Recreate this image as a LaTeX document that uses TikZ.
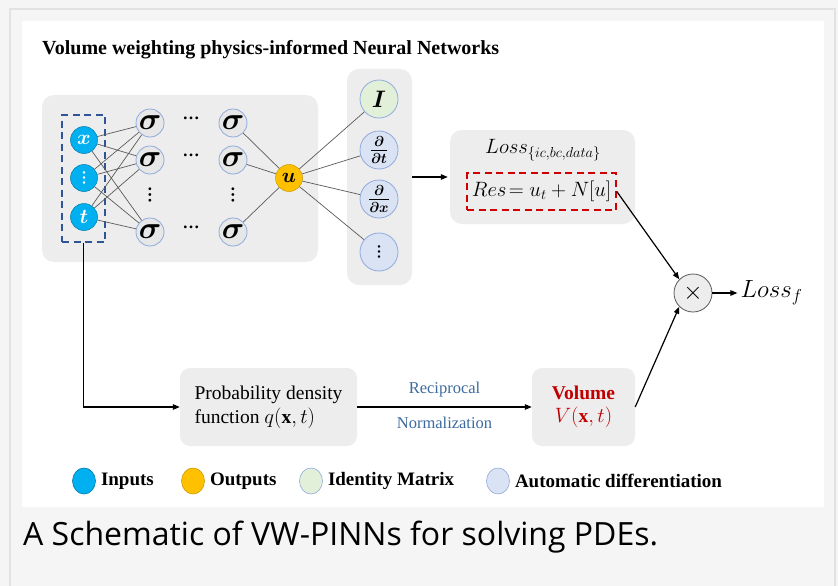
\documentclass[tikz,border=0pt]{standalone}
\usepackage{amssymb,amsmath}
\usepackage{graphicx}
\usepackage{xcolor}
\usepackage{fontspec}
\setmainfont{Liberation Serif}
\newfontfamily\capfont{Open Sans}
\usepackage{tikz}
\usetikzlibrary{shapes.geometric,arrows.meta,positioning}

\definecolor{inblue}{HTML}{00B0F0}
\definecolor{outgold}{HTML}{FFC000}
\definecolor{idgreen}{HTML}{E2F0D9}
\definecolor{adblue}{HTML}{DAE3F3}
\definecolor{ringblue}{HTML}{8FAADC}
\definecolor{sigfill}{HTML}{E7E7E7}
\definecolor{boxgray}{HTML}{EDEDED}
\definecolor{wirecol}{HTML}{5A5A5A}
\definecolor{dashblue}{HTML}{2F5597}
\definecolor{resred}{HTML}{D00000}
\definecolor{volred}{HTML}{C00000}
\definecolor{notecol}{HTML}{3D6A9E}
\definecolor{pagebg}{HTML}{F5F5F5}
\definecolor{frameline}{HTML}{E2E2E2}

% heavy dot rows
\newcommand{\rowdots}{\raisebox{0.28em}{\bfseries\textellipsis}}
\newcommand{\coldots}{\rotatebox{90}{\bfseries\textellipsis}}

\begin{document}
\begin{tikzpicture}[x=1pt,y=-1pt,
  graybox/.style={draw=none, fill=boxgray, rounded corners=12pt, inner sep=0pt},
  inputnode/.style={circle, fill=inblue, draw=inblue!70!black, line width=0.5pt, minimum size=27pt, inner sep=0pt, text=white, font=\fontsize{21}{21}\selectfont\boldmath},
  signode/.style={circle, fill=sigfill, draw=ringblue, line width=0.8pt, minimum size=28pt, inner sep=0pt, font=\fontsize{24}{24}\selectfont\boldmath},
  opnode/.style={circle, fill=adblue, draw=ringblue, line width=0.8pt, minimum size=38pt, inner sep=0pt, font=\fontsize{22}{22}\selectfont\boldmath},
  dotrow/.style={inner sep=0pt, font=\fontsize{17}{17}\selectfont},
  wire/.style={draw=wirecol, line width=0.7pt},
  flow/.style={draw=black, line width=1.2pt, -{Triangle[length=7pt,width=5.5pt]}},
  legdot/.style={ellipse, minimum width=23pt, minimum height=26pt, inner sep=0pt, line width=0.6pt},
  legtext/.style={inner sep=0pt, right=5pt, font=\fontsize{19}{20}\selectfont\bfseries}]
\useasboundingbox (0,0) rectangle (838,586);
% page and white panel
\fill[pagebg] (0,0) rectangle (838,586);
\draw[frameline, line width=2.5pt] (10,9) rectangle (835,600);
\fill[white] (22,21) rectangle (824,507);
\node[anchor=base west, inner sep=0pt, font=\fontsize{20}{22}\selectfont\bfseries] (title) at (42,55) {Volume weighting physics-informed Neural Networks};

% grey panels
\node[graybox, minimum width=276pt, minimum height=167pt] (netbox) at (180,178.5) {};
\node[graybox, minimum width=65pt, minimum height=216pt] (colbox) at (379.5,177) {};
\node[graybox, minimum width=185pt, minimum height=94pt] (lossbox) at (542.5,177) {};
\node[graybox, minimum width=177pt, minimum height=78pt, rounded corners=10pt] (pdfbox) at (268.5,407) {};
\node[graybox, minimum width=103pt, minimum height=78pt, rounded corners=10pt] (volbox) at (583.5,407) {};

% inputs
\node[inputnode] (in1) at (84,140) {$x$};
\node[inputnode, font=\fontsize{15}{15}\selectfont] (in2) at (84,178) {\coldots};
\node[inputnode] (in3) at (84,217) {$t$};
\node[draw=dashblue, line width=1.6pt, dash pattern=on 7pt off 4.5pt, minimum width=43pt, minimum height=127pt, inner sep=0pt] (inbox) at (83.5,178.5) {};

% hidden layers
\foreach \row/\y in {1/123,2/160,4/232}{
  \node[signode] (sa\row) at (150,\y) {\scalebox{1.25}{$\sigma$}};
  \node[signode] (sb\row) at (233,\y) {\scalebox{1.25}{$\sigma$}};
  \node[dotrow] (dots\row) at (191,\y-2) {\rowdots};
}
\node[dotrow] (vdots1) at (150,195) {\coldots};
\node[dotrow] (vdots2) at (233,195) {\coldots};

\node[circle, fill=outgold, draw=outgold!80!black, line width=0.5pt, minimum size=27pt, inner sep=0pt, font=\fontsize{22}{22}\selectfont\boldmath] (u) at (289,178) {$u$};

\foreach \i in {1,2,3}{
  \foreach \row in {1,2,4}{
    \draw[wire] (in\i) -- (sa\row);
  }
}
\foreach \row in {1,2,4}{
  \draw[wire] (sb\row) -- (u);
}

% operators on u
\node[opnode, fill=idgreen] (idn) at (379,99) {\scalebox{1.15}{$I$}};
\node[opnode] (ddt) at (379,150) {$\frac{\partial}{\partial t}$};
\node[opnode] (ddx) at (379,199) {$\frac{\partial}{\partial x}$};
\node[opnode, font=\fontsize{15}{15}\selectfont] (more) at (379,252) {\coldots};
\foreach \op in {idn,ddt,ddx,more}{
  \draw[wire] (u) -- (\op);
}

% losses
\draw[flow] (colbox.east) -- ([xshift=-2pt]lossbox.west);
\node[font=\fontsize{21.5}{21.5}\selectfont] (losslab) at (543,150) {$Loss_{\{ic,bc,data\}}$};
\node[draw=resred, line width=1.6pt, dash pattern=on 7pt off 4.5pt, minimum width=149pt, minimum height=37pt, inner sep=0pt, font=\fontsize{20.5}{20.5}\selectfont] (resbox) at (541.5,191.5) {$Res\!=u_t+N[u]$};

\node[circle, fill=boxgray, draw=wirecol, line width=0.8pt, minimum size=38pt, inner sep=0pt, font=\fontsize{24}{24}\selectfont] (times) at (693,293) {$\times$};
\node[right=28pt of times, inner sep=0pt, font=\fontsize{24}{24}\selectfont] (lossf) {$Loss_{f}$};
\draw[flow] (resbox.east) -- (times.north west);
\draw[flow] (times.east) -- ([xshift=-3pt]lossf.west);

% volume weighting branch
\node[align=left, font=\fontsize{19.5}{24}\selectfont] (pdftext) at (pdfbox) {Probability density\\function $q(\mathbf{x},t)$};
\node[align=center, text=volred, font=\fontsize{19.5}{23}\selectfont] (voltext) at (volbox) {\textbf{Volume}\\$V(\mathbf{x},t)$};
\draw[flow] (inbox.south) |- (pdfbox.west);
\draw[flow] (pdfbox.east) -- (volbox.west)
  node[midway, above=6pt, text=notecol, font=\fontsize{16.5}{18}\selectfont] (recip) {Reciprocal}
  node[midway, below=6pt, text=notecol, font=\fontsize{16.5}{18}\selectfont] (norm) {Normalization};
\draw[flow] (volbox.east) -- (times.south west);

% legend
\node[legdot, fill=inblue, draw=inblue!70!black] (lgin) at (84,481) {};
\node[legtext, right=5pt of lgin] (ltin) {Inputs};
\node[legdot, fill=outgold, draw=outgold!80!black] (lgout) at (193,481) {};
\node[legtext, right=5pt of lgout] (ltout) {Outputs};
\node[legdot, fill=idgreen, draw=ringblue] (lgid) at (311,481) {};
\node[legtext, right=5pt of lgid] (ltid) {Identity Matrix};
\node[legdot, fill=adblue, draw=ringblue] (lgad) at (498,481) {};
\node[legtext, right=5pt of lgad] (ltad) {Automatic differentiation};

% caption
\node[anchor=base west, inner sep=0pt, font=\fontsize{32}{34}\capfont] (caption) at (23,545) {A Schematic of VW-PINNs for solving PDEs.};
\end{tikzpicture}
\end{document}
